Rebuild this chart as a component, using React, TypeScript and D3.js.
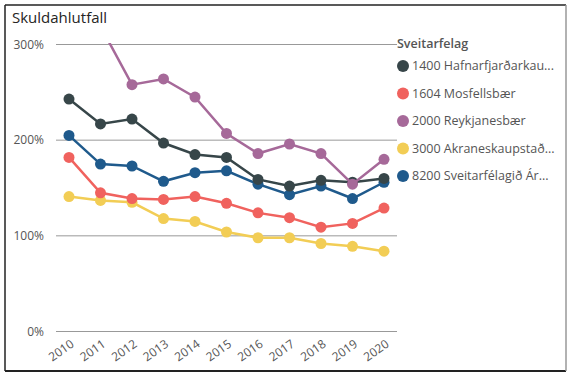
import React from "react";
import * as d3 from "d3";

const years = [2010, 2011, 2012, 2013, 2014, 2015, 2016, 2017, 2018, 2019, 2020];
const yTicks = [0, 100, 200, 300];

const s1400 = [243, 217, 222, 197, 185, 182, 159, 152, 158, 156, 160];
const s1604 = [182, 145, 139, 138, 141, 134, 124, 119, 109, 113, 129];
const s2000: (number | null)[] = [null, 319, 258, 264, 245, 207, 186, 196, 186, 154, 180];
const s3000 = [141, 137, 135, 118, 115, 104, 98, 98, 92, 89, 84];
const s8200 = [205, 175, 173, 157, 166, 168, 154, 143, 152, 139, 156];

const seriesNames = [
  "1400 Hafnarfjarðarkau...",
  "1604 Mosfellsbær",
  "2000 Reykjanesbær",
  "3000 Akraneskaupstað...",
  "8200 Sveitarfélagið Ár...",
];
const seriesColors = ["#374649", "#F0625E", "#A66999", "#F2CD55", "#1F5A8C"];
const seriesValues = [s1400, s1604, s2000, s3000, s8200];
const drawOrder = [3, 1, 4, 0, 2];

export default function App() {
  const W = 573, H = 376;
  const x = d3.scalePoint<number>().domain(years).range([69, 384]);
  const y = d3.scaleLinear().domain([0, 300]).range([331.5, 44.5]);
  const line = d3
    .line<number | null>()
    .defined((d) => d != null)
    .x((_, i) => x(years[i]) as number)
    .y((d) => y(d as number));
  const font = "'Segoe UI', 'Open Sans', 'DejaVu Sans', sans-serif";

  return (
    <svg width={W} height={H} style={{ position: "absolute", left: 0, top: 0 }} fontFamily={font}>
      <defs>
        <clipPath id="plot">
          <rect x={50} y={43} width={350} height={300} />
        </clipPath>
      </defs>
      <rect x={0} y={0} width={W} height={H} fill="#fff" />
      <line x1={5} y1={5} x2={566} y2={5} stroke="#222" strokeWidth={1.5} />
      <line x1={5} y1={5} x2={5} y2={371} stroke="#222" strokeWidth={1.5} />
      <line x1={5} y1={371} x2={566} y2={371} stroke="#222" strokeWidth={2} />
      <line x1={566} y1={5} x2={566} y2={371} stroke="#999" strokeWidth={1.5} />
      <text x={12} y={23} fontSize={15} fill="#252423">Skuldahlutfall</text>
      {yTicks.map((t) => (
        <g key={t}>
          <line x1={56} x2={397} y1={y(t)} y2={y(t)} stroke="#999" strokeWidth={1} />
          <text x={44} y={y(t)} dy="0.35em" textAnchor="end" fontSize={12} fill="#555">
            {t}%
          </text>
        </g>
      ))}
      {years.map((yr) => (
        <text
          key={yr}
          transform={`translate(${(x(yr) as number) + 1},${339}) rotate(-35)`}
          textAnchor="end"
          dy="0.7em"
          fontSize={12}
          fill="#555"
        >
          {yr}
        </text>
      ))}
      <g clipPath="url(#plot)">
        {drawOrder.map((si) => (
          <g key={si}>
            <path d={line(seriesValues[si]) || ""} fill="none" stroke={seriesColors[si]} strokeWidth={2.5} />
            {seriesValues[si].map((v, i) =>
              v == null ? null : (
                <circle key={i} cx={x(years[i])} cy={y(v)} r={5.5} fill={seriesColors[si]} />
              )
            )}
          </g>
        ))}
      </g>
      <text x={397} y={44} dy="0.35em" fontSize={12.5} fontWeight={600} fill="#555">
        Sveitarfelag
      </text>
      {seriesNames.map((n, i) => (
        <g key={n}>
          <circle cx={403} cy={66 + i * 27.5} r={6} fill={seriesColors[i]} />
          <text x={412} y={66 + i * 27.5} dy="0.35em" fontSize={12.5} fill="#555">
            {n}
          </text>
        </g>
      ))}
    </svg>
  );
}
